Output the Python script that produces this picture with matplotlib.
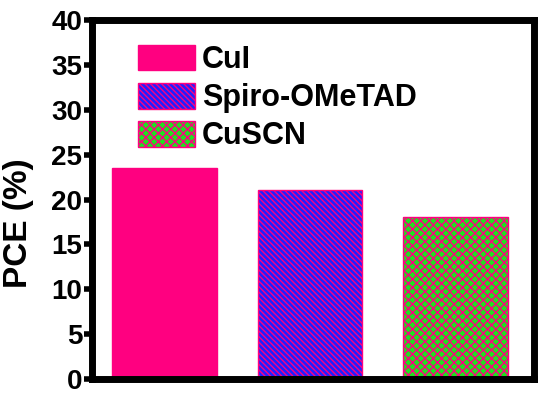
import matplotlib
matplotlib.use("Agg")
import matplotlib.pyplot as plt

plt.rcParams['font.family'] = ['Liberation Sans', 'DejaVu Sans']
plt.rcParams['font.weight'] = 'bold'
plt.rcParams['hatch.linewidth'] = 1.0

materials = ['CuI', 'Spiro-OMeTAD', 'CuSCN']
pce = [23.5, 21.1, 18.0]
face = ['#ff0080', '#2020ff', '#20e020']
hatches = ['', '\\\\\\\\\\\\', 'xxxx']

fig, ax = plt.subplots(figsize=(5.5, 3.99), dpi=100)
fig.subplots_adjust(left=0.167, right=0.971, top=0.95, bottom=0.05)

x = range(len(materials))
for i in x:
    ax.bar(i, pce[i], width=0.72, color=face[i], edgecolor='#ff0080',
           hatch=hatches[i], linewidth=1, label=materials[i])

ax.set_xlim(-0.5, 2.54)
ax.set_ylim(0, 40)
ax.set_yticks(range(0, 41, 5))
ax.set_xticks([])
for s in ax.spines.values():
    s.set_linewidth(5)
ax.tick_params(axis='y', direction='out', length=6, width=4, labelsize=20, pad=1)
ax.set_ylabel('PCE (%)', fontsize=24, fontweight='bold')
ax.yaxis.set_label_coords(-0.131, 0.435)

ax.legend(loc='upper left', bbox_to_anchor=(0.076, 0.965), frameon=False,
          handlelength=1.86, handleheight=0.92, labelspacing=0.25,
          handletextpad=0.25, borderaxespad=0,
          prop={'weight': 'bold', 'size': 22})

fig.savefig('out.png', dpi=100)
